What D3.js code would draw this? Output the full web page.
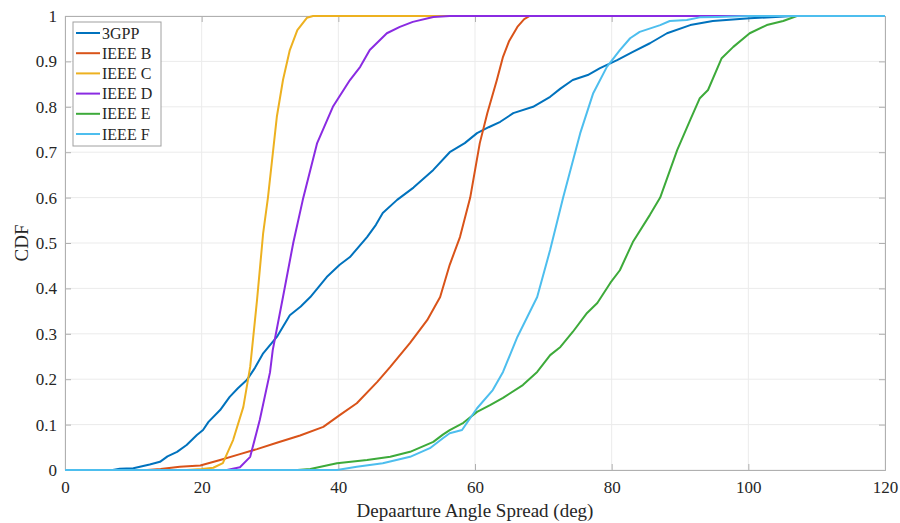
<!DOCTYPE html>
<html>
<head>
<meta charset="utf-8">
<script src="https://cdn.jsdelivr.net/npm/d3@7"></script>
<style>
  body { margin: 0; background: #fff; }
  svg, svg text { font-family: "Liberation Serif", "Times New Roman", serif; }
</style>
</head>
<body>
<svg id="chart" width="900" height="523"></svg>
<script>
// values: [angle spread (deg), CDF]
const seriesNames = ["3GPP", "IEEE B", "IEEE C", "IEEE D", "IEEE E", "IEEE F"];
const seriesColors = ["#0072BD", "#D95319", "#EDB120", "#8A2BE2", "#3DAA3A", "#4DBEEE"];

const gpp3 = [[0,0],[7,0],[8,0.003],[10,0.004],[12.4,0.012],[13.9,0.018],[15,0.03],[16.4,0.04],
  [17.8,0.055],[19.3,0.077],[20.2,0.088],[21,0.106],[22.7,0.132],[24.1,0.161],[25.3,0.18],[26.6,0.198],
  [27.8,0.225],[29,0.257],[31,0.293],[32.9,0.341],[34.5,0.36],[35.9,0.381],[38.3,0.425],[40.2,0.452],
  [41.7,0.469],[44.2,0.513],[45.5,0.54],[46.5,0.566],[48.6,0.595],[51,0.622],[53.9,0.661],[56.3,0.70],
  [58.5,0.72],[60.3,0.742],[62,0.755],[63.7,0.767],[65.6,0.786],[68.5,0.80],[71,0.822],[72.5,0.84],
  [74.3,0.859],[76.5,0.87],[78.3,0.885],[80.8,0.903],[83.1,0.921],[85.6,0.94],[88.1,0.962],[91.5,0.98],
  [94.8,0.989],[100.2,0.995],[104,0.998],[106.5,1],[120,1]];
const ieeeB = [[0,0],[12,0],[14,0.002],[16.8,0.007],[19.8,0.01],[22.7,0.022],[25.6,0.035],[28.1,0.046],
  [31,0.06],[34.4,0.076],[37.8,0.095],[40.2,0.121],[42.7,0.147],[45.7,0.194],[47.6,0.227],[50.5,0.28],
  [53,0.33],[54.9,0.381],[56.3,0.452],[57.8,0.513],[59.3,0.60],[60.7,0.72],[61.8,0.786],[63.2,0.859],
  [64.1,0.91],[65,0.945],[66.2,0.976],[67.2,0.993],[68,1],[120,1]];
const ieeeC = [[0,0],[17.8,0],[20,0.002],[21.7,0.005],[23.1,0.015],[24.6,0.066],[26.1,0.139],
  [27.1,0.227],[28.1,0.374],[29,0.522],[29.7,0.60],[31,0.778],[31.9,0.859],[32.9,0.925],[34,0.969],
  [35.4,0.996],[36.3,1],[120,1]];
const ieeeD = [[0,0],[23.7,0],[25.6,0.006],[27.1,0.029],[28.5,0.11],[30,0.215],[30.4,0.264],
  [31.9,0.381],[33.4,0.5],[34.8,0.595],[36.9,0.72],[39.2,0.80],[41.7,0.859],[43.2,0.888],[44.6,0.925],
  [47.1,0.962],[49,0.976],[50.9,0.987],[53.9,0.998],[56.3,1],[120,1]];
const ieeeE = [[0,0],[34,0],[35.9,0.002],[39.8,0.015],[44.2,0.022],[47.6,0.029],[50.5,0.04],
  [53.9,0.062],[55.3,0.078],[56.3,0.088],[58.3,0.104],[60.3,0.128],[62.2,0.143],[64.1,0.159],
  [67,0.187],[69.1,0.216],[71,0.253],[72.5,0.271],[74.3,0.304],[76.4,0.346],[77.9,0.368],[79.8,0.412],
  [81.2,0.44],[83.1,0.502],[85.6,0.562],[87.1,0.60],[89.6,0.705],[91.5,0.771],[92.9,0.819],[94.1,0.837],
  [96.1,0.907],[97.8,0.932],[100.2,0.962],[102.7,0.98],[105.1,0.989],[107.1,1],[120,1]];
const ieeeF = [[0,0],[39.8,0],[42.7,0.007],[46.5,0.015],[50.5,0.029],[53.4,0.048],[55.3,0.07],
  [56.3,0.081],[58.1,0.088],[60.3,0.136],[62.6,0.176],[64.1,0.216],[66.2,0.293],[69.1,0.381],
  [71,0.485],[72.9,0.60],[75.4,0.742],[77.3,0.83],[79.3,0.888],[81.2,0.925],[82.7,0.951],[84.1,0.965],
  [87.1,0.98],[88.5,0.989],[91,0.991],[92.9,0.997],[95.4,0.998],[100,1],[120,1]];
const seriesData = [gpp3, ieeeB, ieeeC, ieeeD, ieeeE, ieeeF];

const xTicks = [0, 20, 40, 60, 80, 100, 120];
const yTicks = [0, 0.1, 0.2, 0.3, 0.4, 0.5, 0.6, 0.7, 0.8, 0.9, 1];

const plotL = 65, plotR = 885, plotT = 16, plotB = 470;
const svg = d3.select("#chart");
const x = d3.scaleLinear().domain([0, 120]).range([plotL, plotR]);
const y = d3.scaleLinear().domain([0, 1]).range([plotB, plotT]);

// grid
const grid = svg.append("g").attr("stroke", "#ebebeb").attr("stroke-width", 1);
grid.selectAll(".gx").data(xTicks).join("line")
  .attr("x1", d => x(d)).attr("x2", d => x(d)).attr("y1", plotT).attr("y2", plotB);
grid.selectAll(".gy").data(yTicks).join("line")
  .attr("x1", plotL).attr("x2", plotR).attr("y1", d => y(d)).attr("y2", d => y(d));

// axes (box style, ticks inside)
const axisColor = "#262626";
const fmtY = d => d === 0 || d === 1 ? String(d) : d3.format(".1f")(d);
const xAxis = svg.append("g").attr("transform", `translate(0,${plotB})`)
  .call(d3.axisBottom(x).tickValues(xTicks).tickSize(-6).tickPadding(11).tickFormat(d3.format("d")));
const yAxis = svg.append("g").attr("transform", `translate(${plotL},0)`)
  .call(d3.axisLeft(y).tickValues(yTicks).tickSize(-6).tickPadding(8).tickFormat(fmtY));
const xTop = svg.append("g").attr("transform", `translate(0,${plotT})`)
  .call(d3.axisTop(x).tickValues(xTicks).tickSize(-6).tickFormat(""));
const yRight = svg.append("g").attr("transform", `translate(${plotR},0)`)
  .call(d3.axisRight(y).tickValues(yTicks).tickSize(-6).tickFormat(""));
[xAxis, yAxis, xTop, yRight].forEach(g => {
  g.attr("font-family", "Liberation Serif").attr("font-size", 17);
  g.selectAll("path").attr("stroke", "#b0b0b0");
  g.selectAll("line").attr("stroke", "#b0b0b0");
  g.selectAll("text").attr("fill", axisColor);
});

// lines
const line = d3.line().x(d => x(d[0])).y(d => y(d[1]));
svg.append("g").selectAll("path").data(seriesData).join("path")
  .attr("d", line)
  .attr("fill", "none")
  .attr("stroke", (d, i) => seriesColors[i])
  .attr("stroke-width", 2)
  .attr("stroke-linejoin", "round");

// axis titles
svg.append("text").attr("x", (plotL + plotR) / 2).attr("y", 517)
  .attr("text-anchor", "middle").attr("fill", axisColor).style("font-size", "19px")
  .text("Depaarture Angle Spread (deg)");
svg.append("text").attr("transform", `translate(28,${(plotT + plotB) / 2}) rotate(-90)`)
  .attr("text-anchor", "middle").attr("fill", axisColor).style("font-size", "19px")
  .text("CDF");

// legend
const lg = svg.append("g");
lg.append("rect").attr("x", 73).attr("y", 22).attr("width", 88).attr("height", 124)
  .attr("fill", "#fff").attr("stroke", "#a0a0a0").attr("stroke-width", 1);
const rows = lg.selectAll(".row").data(seriesNames).join("g")
  .attr("transform", (d, i) => `translate(0,${33 + i * 20.2})`);
rows.append("line").attr("x1", 76).attr("x2", 100).attr("y1", 0).attr("y2", 0)
  .attr("stroke", (d, i) => seriesColors[i]).attr("stroke-width", 2);
rows.append("text").attr("x", 102).attr("y", 5.5).attr("fill", axisColor)
  .style("font-size", "16px").text(d => d);
</script>
</body>
</html>
